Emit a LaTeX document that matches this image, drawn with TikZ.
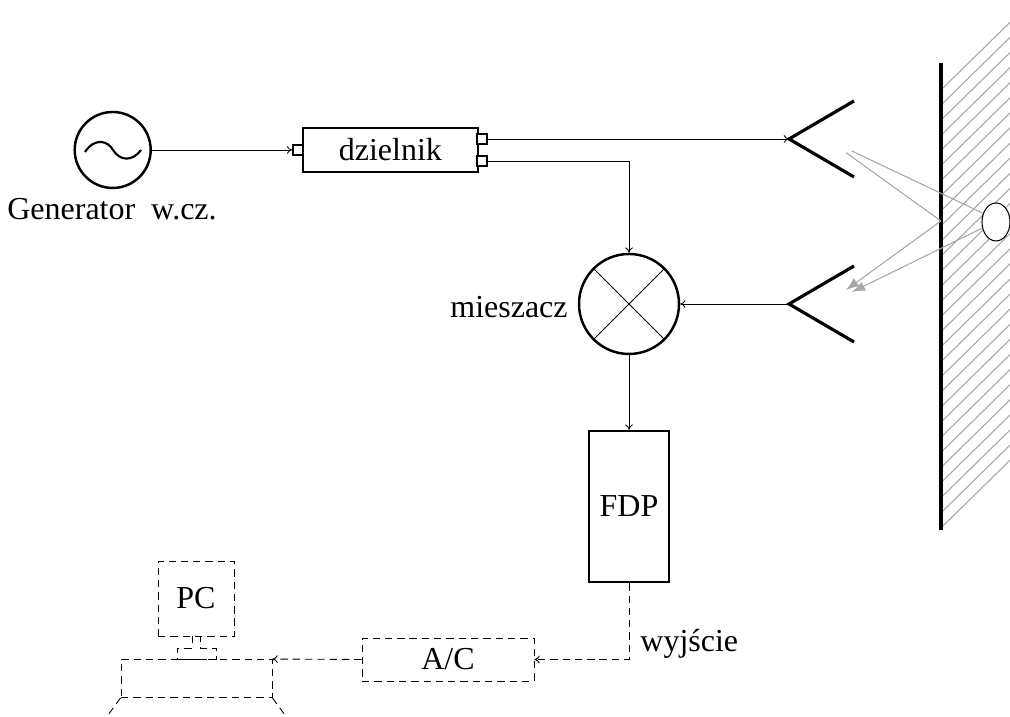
\documentclass[tikz,border=0pt]{standalone}
\usepackage{fontspec}
\setmainfont{Liberation Serif}
\usetikzlibrary{shapes.geometric, arrows.meta}
\tikzset{
  >={To[length=1.5pt, width=2.2pt]},
  conn/.style={line width=0.25pt, ->},
  block/.style={draw, line width=0.7pt, inner sep=0pt},
  port/.style={draw, line width=0.6pt, fill=white, inner sep=0pt, minimum width=0.095cm, minimum height=0.095cm},
  digital/.style={draw, line width=0.25pt, dash pattern=on 2.1pt off 1.4pt, inner sep=0pt},
  dconn/.style={line width=0.25pt, dash pattern=on 2.1pt off 1.4pt},
  horn/.style={line width=0.9pt},
  ray/.style={line width=0.3pt, gray!70},
}
\begin{document}
\begin{tikzpicture}[font=\fontsize{9.1}{11}\selectfont]

\useasboundingbox (0,0) rectangle (10.10,7.17);
\clip (0,0) rectangle (10.10,7.17);

% Generator
\node[block, circle, minimum size=0.76cm] (gen) at (1.127,5.67) {};
\draw[line width=0.6pt] (0.85,5.65) .. controls (0.95,5.80) and (1.08,5.76) .. (1.13,5.67) .. controls (1.20,5.56) and (1.32,5.55) .. (1.41,5.67);
\node (genlabel) at (1.12,5.08) {Generator\hspace{0.08cm} w.cz.};

% Divider and its ports
\node[block, minimum width=1.75cm, minimum height=0.44cm] (div) at (3.904,5.67) {dzielnik};
\node[port] (inport) at (2.98,5.67) {};
\node[port] (outa) at (4.82,5.78) {};
\node[port] (outb) at (4.82,5.56) {};

% Horns
\foreach \n/\y in {hornt/5.78, hornr/4.13}
{
  \coordinate (\n) at (7.89,\y);
  \coordinate (\n up) at (8.54,\y+0.38);
  \coordinate (\n down) at (8.54,\y-0.38);
  \draw[horn] (\n up) -- (\n) -- (\n down);
}

% Mixer
\node[block, circle, minimum size=1cm] (mix) at (6.29,4.13) {};
\draw[line width=0.25pt] (mix.45) -- (mix.225);
\draw[line width=0.25pt] (mix.135) -- (mix.315);
\node[anchor=east] (mixlabel) at (5.80,4.10) {mieszacz};

% Filter
\node[block, minimum width=0.8cm, minimum height=1.51cm] (fdp) at (6.29,2.105) {FDP};

% Digital part
\node[digital, minimum width=1.72cm, minimum height=0.43cm] (adc) at (4.48,0.575) {A/C};
\node[digital, minimum width=1.51cm, minimum height=0.38cm] (base) at (1.965,0.385) {};
\node[digital, minimum width=0.76cm, minimum height=0.75cm] (pc) at (1.96,1.185) {PC};
\node[anchor=west] (outlabel) at (6.28,0.73) {wyjście};

% Monitor stand
\draw[dconn] (1.92,0.81) -- (1.92,0.69) -- (1.77,0.69) -- (1.77,0.575) -- (2.16,0.575) -- (2.16,0.69) -- (2.00,0.69) -- (2.00,0.81);

% Keyboard sides
\coordinate (keyl) at (1.03,-0.05);
\coordinate (keyr) at (2.90,-0.05);
\draw[dconn] (base.south west) -- (keyl);
\draw[dconn] (base.south east) -- (keyr);

% Connections
\draw[conn] (gen.east) -- (inport.west);
\draw[conn] (outa.east) -- (hornt);
\draw[conn] (outb.east) -| (mix.north);
\draw[conn] (hornr) -- (mix.east);
\draw[conn] (mix.south) -- (fdp.north);
\draw[dconn, ->] (fdp.south) |- (adc.east);
\draw[dconn, ->] (adc.west) -- (base.north east);

% Hatching behind the wall
\foreach \i in {0,...,29}
{
  \draw[ray] (9.42,{6.28-\i*0.151}) -- ++(1.0,0.98);
}

% Wall
\coordinate (walltop) at (9.41,6.54);
\coordinate (wallbot) at (9.41,1.87);
\draw[line width=1.2pt] (walltop) -- (wallbot);

% Target
\node[draw, ellipse, line width=0.3pt, fill=white, minimum width=0.28cm, minimum height=0.38cm, inner sep=0pt] (target) at (9.96,4.95) {};

% Reflected rays
\coordinate (raya) at (8.517,5.66);
\coordinate (rayb) at (8.46,5.643);
\coordinate (rayc) at (8.52,4.25);
\coordinate (rayd) at (8.46,4.27);
\coordinate (wallhit) at (9.41,4.96);
\draw[ray] (raya) -- (target.146);
\draw[ray, -latex] (target.204) -- (rayc);
\draw[ray] (rayb) -- (wallhit);
\draw[ray, -latex] (wallhit) -- (rayd);

\end{tikzpicture}
\end{document}
